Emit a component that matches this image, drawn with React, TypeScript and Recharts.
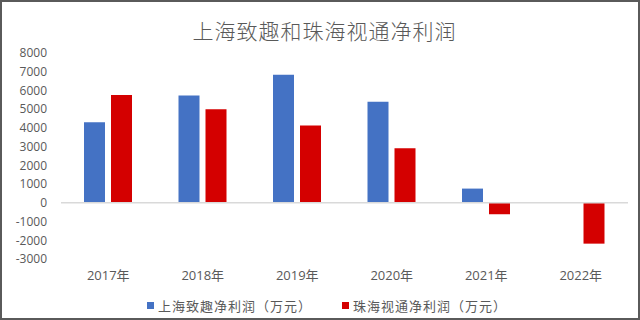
import React from 'react';
import { BarChart, Bar, XAxis, YAxis, ReferenceLine, Legend } from 'recharts';

const categories = ['2017年', '2018年', '2019年', '2020年', '2021年', '2022年'];
const zhiquProfit: (number | null)[] = [4300, 5730, 6840, 5400, 760, null];
const shitongProfit: number[] = [5760, 4990, 4130, 2920, -610, -2180];
const yTicks = [-3000, -2000, -1000, 0, 1000, 2000, 3000, 4000, 5000, 6000, 7000, 8000];
const seriesNames = ['上海致趣净利润（万元）', '珠海视通净利润（万元）'];
const titleText = '上海致趣和珠海视通净利润';

const BLUE = '#4472C4';
const RED = '#D40000';
const TEXT = '#595959';
const FONT = '"Open Sans", "Noto Sans CJK SC", sans-serif';

const data = categories.map((c, i) => ({
  name: c,
  zhiqu: zhiquProfit[i],
  shitong: shitongProfit[i],
}));

const LegendContent = () => (
  <div
    style={{
      height: 24,
      display: 'flex',
      justifyContent: 'center',
      alignItems: 'center',
      fontFamily: FONT,
      fontSize: 13,
      letterSpacing: 1,
      color: TEXT,
      paddingLeft: 26,
    }}
  >
    {[BLUE, RED].map((col, i) => (
      <div key={i} style={{ display: 'flex', alignItems: 'center', marginRight: i === 0 ? 30 : 0 }}>
        <span style={{ display: 'inline-block', width: 7, height: 7, background: col, marginRight: 4 }} />
        <span>{seriesNames[i]}</span>
      </div>
    ))}
  </div>
);

export default function App() {
  return (
    <div style={{ position: 'fixed', left: 0, top: 0, width: 640, height: 320, background: '#fff' }}>
      <div
        style={{
          position: 'absolute',
          left: 0,
          top: 18,
          width: 649,
          textAlign: 'center',
          fontFamily: '"Noto Sans CJK SC", sans-serif',
          fontSize: 21,
          fontWeight: 300,
          color: TEXT,
          lineHeight: '24px',
          letterSpacing: 1,
        }}
      >
        {titleText}
      </div>
      <BarChart
        width={640}
        height={320}
        data={data}
        margin={{ top: 53, right: 12, left: 0, bottom: 3 }}
        barGap={6}
        barSize={21}
      >
        <XAxis
          dataKey="name"
          axisLine={false}
          tickLine={false}
          height={34}
          tick={{ fontSize: 13, fill: TEXT, fontFamily: FONT }}
          tickMargin={6}
        />
        <YAxis
          width={61}
          domain={[-3000, 8000]}
          ticks={yTicks}
          axisLine={false}
          tickLine={false}
          tickMargin={8}
          interval={0}
          tick={{ fontSize: 12, fill: TEXT, fontFamily: FONT }}
        />
        <ReferenceLine y={0} stroke="#d9d9d9" strokeWidth={1.5} />
        <Bar dataKey="zhiqu" name={seriesNames[0]} fill={BLUE} isAnimationActive={false} />
        <Bar dataKey="shitong" name={seriesNames[1]} fill={RED} isAnimationActive={false} />
        <Legend verticalAlign="bottom" content={<LegendContent />} />
      </BarChart>
      <div
        style={{
          position: 'absolute',
          inset: 0,
          border: '2px solid #5a5a5a',
          pointerEvents: 'none',
        }}
      />
    </div>
  );
}
